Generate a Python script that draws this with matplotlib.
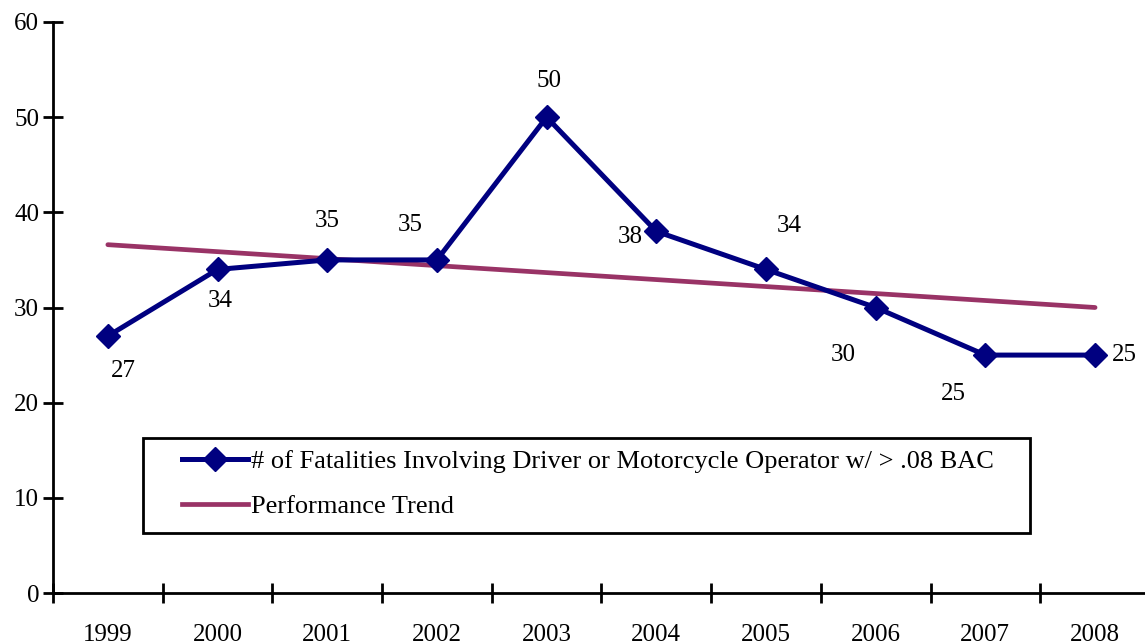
import matplotlib.pyplot as plt
from matplotlib.lines import Line2D
from matplotlib.patches import Rectangle

years = ["1999", "2000", "2001", "2002", "2003", "2004", "2005", "2006", "2007", "2008"]
fatalities = [27, 34, 35, 35, 50, 38, 34, 30, 25, 25]
trend_ends = [36.6, 30.0]  # trend line read at 1999 and 2008

# label offsets in points (where each value label sits relative to its marker)
label_offsets = [(11, -25), (2, -23), (0, 28), (-19, 25), (2, 26),
                 (-19, -4), (17, 31), (-23, -34), (-23, -28), (21, 0)]

_NAVY = "#000080"
_PLUM = "#993366"

W, H = 1145, 644

plt.rcParams["font.family"] = ["Liberation Serif", "DejaVu Serif"]

fig = plt.figure(figsize=(W / 100, H / 100), dpi=100)
ax = fig.add_axes([53 / W, 1 - 593 / H, 0.958, (593 - 22) / H])

x = list(range(len(years)))
ax.plot([x[0], x[-1]], trend_ends, color=_PLUM, linewidth=3.4, solid_capstyle="round",
        zorder=2)
ax.plot(x, fatalities, color=_NAVY, linewidth=3.6, marker="D", markersize=12,
        zorder=3)

for xi, v, (dx, dy) in zip(x, fatalities, label_offsets):
    ax.annotate(str(v), (xi, v), xytext=(dx, dy), textcoords="offset points",
                ha="center", va="center", fontsize=18)

ax.set_xlim(-0.5, len(years) - 0.5)
ax.set_ylim(0, 60)
ax.set_yticks(range(0, 61, 10))
ax.set_xticks([i - 0.5 for i in range(len(years) + 1)])
ax.set_xticklabels([])
ax.set_xticks(x, minor=True)
ax.set_xticklabels(years, minor=True)
ax.tick_params(axis="x", which="major", direction="inout", length=14, width=2)
ax.tick_params(axis="x", which="minor", length=0, pad=22, labelsize=18)
ax.tick_params(axis="y", direction="inout", length=14, width=2, labelsize=18, pad=3)

for side in ("top", "right"):
    ax.spines[side].set_visible(False)
for side in ("left", "bottom"):
    ax.spines[side].set_linewidth(2)

# legend box drawn by hand so its padding can match
fig.patches.append(Rectangle((143 / W, 1 - 533 / H), (1030 - 143) / W, 95 / H,
                             transform=fig.transFigure, facecolor="white",
                             edgecolor="black", linewidth=2, zorder=4))

handles = [
    Line2D([], [], color=_NAVY, linewidth=3.6, marker="D", markersize=12),
    Line2D([], [], color=_PLUM, linewidth=3.4),
]
leg = fig.legend(handles,
                 ["# of Fatalities Involving Driver or Motorcycle Operator w/ > .08 BAC",
                  "Performance Trend"],
                 loc="center left", bbox_to_anchor=(182 / W, 1 - 484 / H),
                 fontsize=19, frameon=False, handlelength=2.5, handletextpad=0.1,
                 borderpad=0, labelspacing=0.8, borderaxespad=0)
leg.set_zorder(5)

fig.savefig("out.png", dpi=100)
